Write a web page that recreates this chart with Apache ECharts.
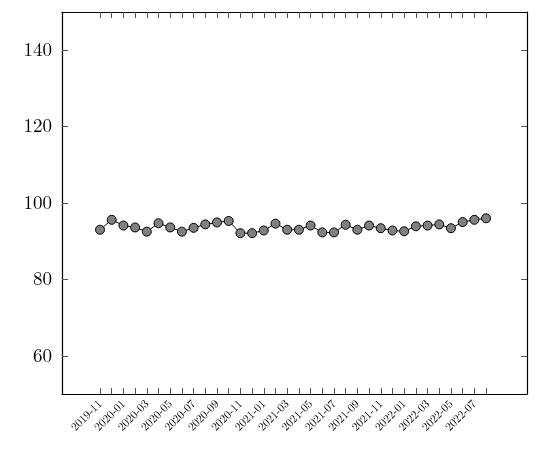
<!DOCTYPE html>
<html>
<head>
<meta charset="utf-8">
<script src="https://cdn.jsdelivr.net/npm/echarts@6/dist/echarts.min.js"></script>
</head>
<body style="margin:0">
<div id="chart" style="width:540px;height:453px;"></div>
<script>
var months = ['2019-11','2019-12','2020-01','2020-02','2020-03','2020-04','2020-05','2020-06','2020-07','2020-08','2020-09','2020-10','2020-11','2020-12',
  '2021-01','2021-02','2021-03','2021-04','2021-05','2021-06','2021-07','2021-08','2021-09','2021-10','2021-11','2021-12',
  '2022-01','2022-02','2022-03','2022-04','2022-05','2022-06','2022-07','2022-08'];
var values = [93.0,95.6,94.1,93.6,92.5,94.7,93.6,92.5,93.5,94.4,94.9,95.3,92.1,92.1,92.8,94.6,93.0,93.0,
  94.1,92.3,92.3,94.3,93.0,94.1,93.4,92.8,92.6,93.9,94.1,94.4,93.4,95.0,95.6,96.0];
var yTicks = [60, 80, 100, 120, 140];

var idx = months.map(function (m, i) { return i; });
var labelIdx = idx.filter(function (i) { return i % 2 === 0; });
var font = '"Latin Modern Roman","DejaVu Serif",serif';

var chart = echarts.init(document.getElementById('chart'));
chart.setOption({
  animation: false,
  grid: {left: 62, right: 13, top: 12, bottom: 59},
  xAxis: [{
    type: 'value', min: -3.25, max: 36.5,
    axisLine: {onZero: false, lineStyle: {color: '#000', width: 1.2}},
    axisTick: {inside: true, length: 6, customValues: idx, lineStyle: {color: '#555'}},
    splitLine: {show: false},
    axisLabel: {customValues: labelIdx, rotate: 45, fontSize: 11.5, fontFamily: font, color: '#000',
      formatter: function (v) { return months[Math.round(v)] || ''; }}
  }, {
    type: 'value', position: 'top', min: -3.25, max: 36.5,
    axisLine: {show: true, onZero: false, lineStyle: {color: '#000', width: 1.2}},
    axisTick: {inside: true, length: 6, customValues: idx, lineStyle: {color: '#555'}},
    axisLabel: {show: false}, splitLine: {show: false}
  }],
  yAxis: [{
    type: 'value', min: 50, max: 150,
    axisLine: {show: true, onZero: false, lineStyle: {color: '#000', width: 1.2}},
    axisTick: {inside: true, length: 6, customValues: yTicks, lineStyle: {color: '#555'}},
    splitLine: {show: false},
    axisLabel: {customValues: yTicks, fontSize: 19, fontFamily: font, color: '#000', margin: 10}
  }, {
    type: 'value', position: 'right', min: 50, max: 150,
    axisLine: {show: true, onZero: false, lineStyle: {color: '#000', width: 1.2}},
    axisTick: {inside: true, length: 6, customValues: yTicks, lineStyle: {color: '#555'}},
    axisLabel: {show: false}, splitLine: {show: false}
  }],
  series: [{
    type: 'line',
    data: values.map(function (v, i) { return [i, v]; }),
    symbol: 'circle', symbolSize: 9,
    lineStyle: {color: '#000', width: 1},
    itemStyle: {color: '#808080', borderColor: '#000', borderWidth: 1}
  }]
});
</script>
</body>
</html>
